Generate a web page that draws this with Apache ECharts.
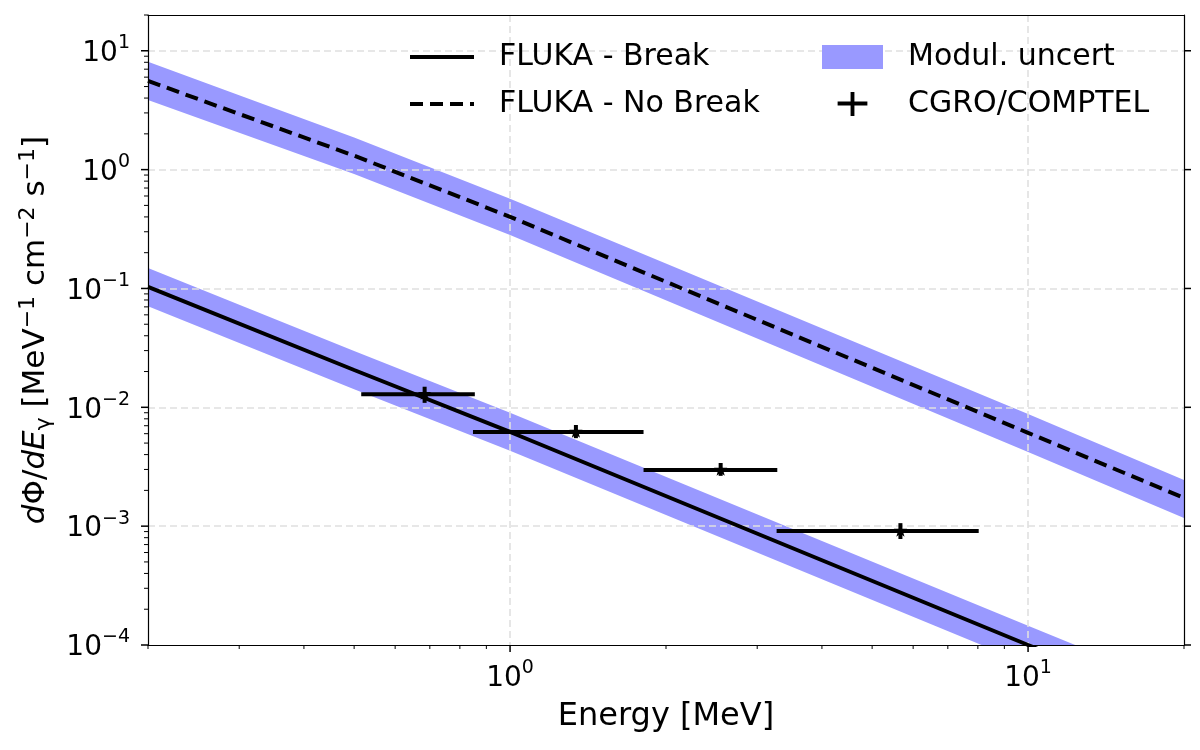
<!DOCTYPE html>
<html>
<head>
<meta charset="utf-8">
<script src="https://cdn.jsdelivr.net/npm/echarts@6/dist/echarts.min.js"></script>
<style>
  html, body { margin: 0; padding: 0; background: #fff; }
  #chart { width: 1200px; height: 750px; }
</style>
</head>
<body>
<div id="chart"></div>
<script>
// model curves, read at E = 0.2, 0.5, 1, 10 and 20 MeV
const energyGrid = [0.2, 0.5, 1, 10, 20];
const fluxBreak = [0.103, 0.0206, 6.2e-3, 1.0e-4, 2.92e-5];
const fluxBreakLow = [0.071, 0.0142, 4.3e-3, 6.9e-5, 2.01e-5];
const fluxBreakHigh = [0.149, 0.0298, 9.0e-3, 1.45e-4, 4.24e-5];
const fluxNoBreak = [5.58, 1.31, 0.401, 6.1e-3, 1.73e-3];
const fluxNoBreakLow = [3.86, 0.92, 0.282, 4.2e-3, 1.17e-3];
const fluxNoBreakHigh = [8.1, 1.86, 0.568, 8.8e-3, 2.45e-3];

// CGRO/COMPTEL points
const comptelE = [0.684, 1.34, 2.55, 5.67];
const comptelELow = [0.516, 0.848, 1.81, 3.27];
const comptelEHigh = [0.855, 1.81, 3.28, 8.03];
const comptelFlux = [0.0129, 6.2e-3, 2.97e-3, 9.1e-4];
const comptelFluxLow = [0.0109, 5.5e-3, 2.65e-3, 7.8e-4];
const comptelFluxHigh = [0.0149, 7.1e-3, 3.4e-3, 1.06e-3];

// axes
const xMin = 0.2, xMax = 20;
const yMin = 1e-4, yMax = 20;
const xMajorTicks = [1, 10];
const yMajorTicks = [1e-4, 1e-3, 1e-2, 1e-1, 1, 10];
const mantissas = [2, 3, 4, 5, 6, 7, 8, 9];
const xMinorTicks = [];
[0.1, 1, 10].forEach(d => mantissas.forEach(m => {
  const v = m * d;
  if (v >= xMin - 1e-9 && v <= xMax + 1e-9) xMinorTicks.push(v);
}));
const yMinorTicks = [];
[1e-4, 1e-3, 1e-2, 1e-1, 1, 10].forEach(d => mantissas.forEach(m => {
  const v = m * d;
  if (v <= yMax + 1e-9) yMinorTicks.push(v);
}));

const FONT = 'DejaVu Sans';

function powLabel(v) {
  const e = Math.log10(v);
  const r = Math.round(e);
  if (Math.abs(e - r) > 1e-6) return '';
  return '{b|10}{s|' + String(r).replace('-', '\u2212') + '}';
}
const tickRich = {
  b: { fontFamily: FONT, fontSize: 28, color: '#000', lineHeight: 34, verticalAlign: 'bottom' },
  s: { fontFamily: FONT, fontSize: 19, color: '#000', lineHeight: 19, verticalAlign: 'top' }
};

const chart = echarts.init(document.getElementById('chart'));

function renderTicks(params, api) {
  const kids = [];
  const tick = (a, b, w) => kids.push({
    type: 'line',
    shape: { x1: a[0], y1: a[1], x2: b[0], y2: b[1] },
    style: { stroke: '#000', lineWidth: w }
  });
  xMajorTicks.forEach(v => { const p = api.coord([v, yMin]); tick(p, [p[0], p[1] + 7], 1.5); });
  xMinorTicks.forEach(v => { const p = api.coord([v, yMin]); tick(p, [p[0], p[1] + 4], 1); });
  yMajorTicks.forEach(v => {
    const p = api.coord([xMin, v]); tick(p, [p[0] - 7, p[1]], 1.5);
    const q = api.coord([xMax, v]); tick(q, [q[0] + 7, q[1]], 1.5);
  });
  yMinorTicks.forEach(v => { const p = api.coord([xMin, v]); tick(p, [p[0] - 4, p[1]], 1); });
  return { type: 'group', children: kids };
}

const bands = [[fluxNoBreakLow, fluxNoBreakHigh], [fluxBreakLow, fluxBreakHigh]];
function renderBand(params, api) {
  const [lo, hi] = bands[params.dataIndex];
  const pts = [];
  energyGrid.forEach((e, k) => pts.push(api.coord([e, hi[k]])));
  for (let k = energyGrid.length - 1; k >= 0; k--) pts.push(api.coord([energyGrid[k], lo[k]]));
  return { type: 'polygon', shape: { points: pts }, style: { fill: '#9999ff' } };
}

function renderErrorbar(params, api) {
  const x = api.value(0), y = api.value(1);
  const c = api.coord([x, y]);
  const l = api.coord([api.value(2), y]);
  const r = api.coord([api.value(3), y]);
  const lo = api.coord([x, api.value(4)]);
  const hi = api.coord([x, api.value(5)]);
  const star = [];
  for (let k = 0; k < 10; k++) {
    const a = -Math.PI / 2 + k * Math.PI / 5;
    const rad = k % 2 === 0 ? 7 : 2.8;
    star.push([c[0] + rad * Math.cos(a), c[1] + rad * Math.sin(a)]);
  }
  return {
    type: 'group',
    children: [
      { type: 'line', shape: { x1: l[0], y1: l[1], x2: r[0], y2: r[1] }, style: { stroke: '#000', lineWidth: 4 } },
      { type: 'line', shape: { x1: lo[0], y1: lo[1], x2: hi[0], y2: hi[1] }, style: { stroke: '#000', lineWidth: 4 } },
      { type: 'polygon', shape: { points: star }, style: { fill: '#000' } }
    ]
  };
}

// cross icon for the errorbar legend entry, padded to the patch width
const crossIcon = 'path://M0,12 L0.05,12 L0.05,12.05 Z M61,12 L60.95,12 L60.95,12.05 Z ' +
  'M15,10 L28.5,10 L28.5,0 L32.5,0 L32.5,10 L46,10 L46,14 L32.5,14 L32.5,25 L28.5,25 L28.5,14 L15,14 Z';

const legendText = { fontFamily: FONT, fontSize: 30, color: '#000', lineHeight: 24, padding: [0, 0, 0, 20] };
const hidden = 'rgba(0,0,0,0)';

const option = {
  animation: false,
  backgroundColor: '#fff',
  textStyle: { fontFamily: FONT },
  grid: { left: 148, right: 16, top: 15, bottom: 105, containLabel: false },
  legend: [
    {
      data: ['FLUKA - Break', 'FLUKA - No Break'],
      orient: 'vertical', left: 408, top: 42, padding: 0,
      itemWidth: 64, itemHeight: 24, itemGap: 17,
      selectedMode: false,
      itemStyle: { color: hidden, borderColor: hidden, borderWidth: 0 },
      lineStyle: { width: 4 },
      textStyle: legendText
    },
    {
      data: [{ name: 'Modul. uncert', icon: 'rect' }, { name: 'CGRO/COMPTEL', icon: crossIcon }],
      orient: 'vertical', left: 822, top: 42, padding: 0,
      itemWidth: 61, itemHeight: 24, itemGap: 17,
      selectedMode: false,
      textStyle: legendText
    }
  ],
  xAxis: [
    {
      type: 'log', logBase: 10, min: xMin, max: xMax, z: 2,
      name: 'Energy [MeV]', nameLocation: 'middle', nameGap: 56,
      nameTextStyle: { fontFamily: FONT, fontSize: 32, color: '#000' },
      axisLine: { show: true, lineStyle: { color: '#000', width: 1.2 } },
      axisTick: { show: false },
      axisLabel: { formatter: powLabel, rich: tickRich, margin: 14, showMinLabel: false, showMaxLabel: false },
      splitLine: { show: true, showMinLine: false, showMaxLine: false, lineStyle: { color: '#e0e0e0', width: 1.6, type: [7, 4] } }
    },
    {
      type: 'log', logBase: 10, min: xMin, max: xMax, position: 'top', z: 5,
      axisLine: { show: true, lineStyle: { color: '#000', width: 1.2 } },
      axisTick: { show: false }, axisLabel: { show: false }, splitLine: { show: false }
    }
  ],
  yAxis: [
    {
      type: 'log', logBase: 10, min: yMin, max: yMax, z: 2,
      name: '{i|d}{n|\u03A6/}{i|dE}{sub|\u03B3}{n| [MeV}{sup|\u22121}{n| cm}{sup|\u22122}{n| s}{sup|\u22121}{n|]}',
      nameLocation: 'middle', nameRotate: 90, nameGap: 93,
      nameTextStyle: {
        rich: {
          i: { fontFamily: FONT, fontSize: 31, fontStyle: 'italic', color: '#000', lineHeight: 38, verticalAlign: 'middle' },
          n: { fontFamily: FONT, fontSize: 31, color: '#000', lineHeight: 38, verticalAlign: 'middle' },
          sup: { fontFamily: FONT, fontSize: 22, color: '#000', lineHeight: 22, verticalAlign: 'top' },
          sub: { fontFamily: FONT, fontSize: 22, color: '#000', lineHeight: 22, verticalAlign: 'bottom' }
        }
      },
      axisLine: { show: true, lineStyle: { color: '#000', width: 1.2 } },
      axisTick: { show: false },
      axisLabel: { formatter: powLabel, rich: tickRich, margin: 18, showMaxLabel: false },
      splitLine: { show: true, showMinLine: false, showMaxLine: false, lineStyle: { color: '#e0e0e0', width: 1.6, type: [7, 4] } }
    },
    {
      type: 'log', logBase: 10, min: yMin, max: yMax, position: 'right', z: 5,
      axisLine: { show: true, lineStyle: { color: '#000', width: 1.2 } },
      axisTick: { show: false }, axisLabel: { show: false }, splitLine: { show: false }
    }
  ],
  series: [
    {
      name: 'Modul. uncert', type: 'custom', z: 1, clip: true,
      itemStyle: { color: '#9999ff' },
      data: [[energyGrid[0], fluxNoBreak[0]], [energyGrid[0], fluxBreak[0]]],
      renderItem: renderBand
    },
    {
      name: 'FLUKA - Break', type: 'line', z: 3, clip: true,
      symbol: 'none', showSymbol: false,
      lineStyle: { color: '#000', width: 4 }, itemStyle: { color: '#000' },
      data: energyGrid.map((e, i) => [e, fluxBreak[i]])
    },
    {
      name: 'FLUKA - No Break', type: 'line', z: 3, clip: true,
      symbol: 'none', showSymbol: false,
      lineStyle: { color: '#000', width: 4, type: [13, 7] }, itemStyle: { color: '#000' },
      data: energyGrid.map((e, i) => [e, fluxNoBreak[i]])
    },
    {
      name: 'CGRO/COMPTEL', type: 'custom', z: 4, clip: false,
      itemStyle: { color: '#000' },
      data: comptelE.map((e, i) => [e, comptelFlux[i], comptelELow[i], comptelEHigh[i], comptelFluxLow[i], comptelFluxHigh[i]]),
      encode: { x: 0, y: 1 },
      renderItem: renderErrorbar
    },
    {
      name: 'ticks', type: 'custom', z: 5, clip: false, silent: true,
      data: [[1, 1]],
      renderItem: renderTicks
    }
  ]
};
chart.setOption(option);
</script>
</body>
</html>
